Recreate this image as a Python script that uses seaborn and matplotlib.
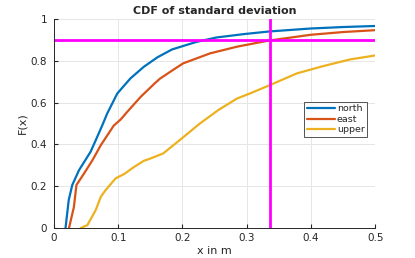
import matplotlib
matplotlib.use("Agg")
import matplotlib.pyplot as plt
import pandas as pd
import seaborn as sns

# values (x in m, F(x))
north_x = [0.018, 0.023, 0.0285, 0.039, 0.057, 0.065, 0.075, 0.083, 0.0986, 0.119, 0.140, 0.161, 0.184, 0.222, 0.253, 0.295, 0.336, 0.40, 0.45, 0.5]
north_f = [0.0, 0.134, 0.206, 0.277, 0.365, 0.42, 0.49, 0.549, 0.644, 0.716, 0.772, 0.817, 0.855, 0.891, 0.912, 0.928, 0.941, 0.955, 0.962, 0.967]
east_x = [0.0234, 0.031, 0.035, 0.047, 0.060, 0.073, 0.078, 0.093, 0.104, 0.114, 0.135, 0.156, 0.165, 0.187, 0.201, 0.243, 0.285, 0.334, 0.40, 0.45, 0.5]
east_f = [0.0, 0.10, 0.206, 0.262, 0.325, 0.397, 0.42, 0.49, 0.52, 0.556, 0.628, 0.69, 0.715, 0.76, 0.788, 0.836, 0.868, 0.897, 0.925, 0.938, 0.947]
upper_x = [0.0415, 0.052, 0.065, 0.073, 0.080, 0.096, 0.109, 0.125, 0.140, 0.1495, 0.170, 0.199, 0.227, 0.256, 0.285, 0.305, 0.336, 0.378, 0.419, 0.461, 0.5]
upper_f = [0.0, 0.014, 0.086, 0.15, 0.18, 0.238, 0.258, 0.293, 0.322, 0.332, 0.357, 0.429, 0.50, 0.565, 0.62, 0.644, 0.684, 0.74, 0.775, 0.807, 0.826]
series_names = ["north", "east", "upper"]
level = 0.9
x_at_level = 0.336

df = pd.concat([
    pd.DataFrame({"x": north_x, "F": north_f, "series": "north"}),
    pd.DataFrame({"x": east_x, "F": east_f, "series": "east"}),
    pd.DataFrame({"x": upper_x, "F": upper_f, "series": "upper"}),
])

sns.set_style("whitegrid")
plt.rcParams['font.family'] = ['DejaVu Sans']

fig = plt.figure(figsize=(4.15, 2.58), dpi=100)
ax = fig.add_axes([0.130, 0.116, 0.774, 0.810])

palette = {"north": "#0072BD", "east": "#D95319", "upper": "#EDB120"}
sns.lineplot(data=df, x="x", y="F", hue="series", hue_order=series_names,
             palette=palette, linewidth=1.6, ax=ax, estimator=None, sort=False)

ax.axhline(level, color="#FF00FF", linewidth=2)
ax.axvline(x_at_level, color="#FF00FF", linewidth=2)

ax.set_xlim(0, 0.5)
ax.set_ylim(0, 1)
ax.set_xticks([0, 0.1, 0.2, 0.3, 0.4, 0.5])
ax.set_xticklabels(["0", "0.1", "0.2", "0.3", "0.4", "0.5"])
ax.set_yticks([0, 0.2, 0.4, 0.6, 0.8, 1])
ax.set_yticklabels(["0", "0.2", "0.4", "0.6", "0.8", "1"])
ax.grid(True, color="#e6e6e6", linewidth=0.7)
for s in ["top", "right"]:
    ax.spines[s].set_visible(False)
for s in ["left", "bottom"]:
    ax.spines[s].set_color("#262626")
    ax.spines[s].set_linewidth(0.7)
ax.tick_params(direction="in", length=3, labelsize=7.5, colors="#262626", left=True, bottom=True)
ax.tick_params(axis="y", pad=5)

ax.set_title("CDF of standard deviation", fontsize=8, fontweight="bold", pad=4)
ax.set_xlabel("x in m", fontsize=8, labelpad=2)
ax.set_ylabel("F(x)", fontsize=8, labelpad=2)

leg = ax.legend(loc="upper left", bbox_to_anchor=(0.779, 0.603), fontsize=6.8,
                frameon=True, fancybox=False, edgecolor="#262626",
                handlelength=3.0, borderpad=0.25, labelspacing=0.15,
                handletextpad=0.2, borderaxespad=0)
leg.get_frame().set_linewidth(0.7)

fig.savefig("out.png", dpi=100)
